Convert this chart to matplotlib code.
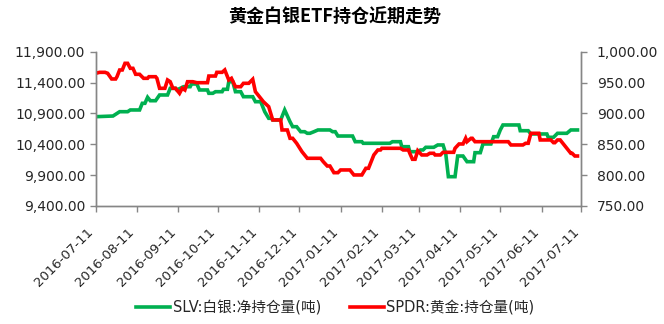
import matplotlib
matplotlib.use("Agg")
import matplotlib.pyplot as plt
import matplotlib.transforms as mtransforms
import datetime as dt

plt.rcParams['font.family'] = ['DejaVu Sans', 'Noto Sans CJK SC']

title = "黄金白银ETF持仓近期走势"
start_date = "2016-07-11"
tick_labels = ["2016-07-11", "2016-08-11", "2016-09-11", "2016-10-11", "2016-11-11",
               "2016-12-11", "2017-01-11", "2017-02-11", "2017-03-11", "2017-04-11",
               "2017-05-11", "2017-06-11", "2017-07-11"]
left_ticks = [9400, 9900, 10400, 10900, 11400, 11900]
right_ticks = [750, 800, 850, 900, 950, 1000]

slv_name = "SLV:白银:净持仓量(吨)"
spdr_name = "SPDR:黄金:持仓量(吨)"

# days since start_date
slv_days = [0, 13, 18, 24, 26, 33, 35, 37, 39, 41, 45, 48, 54, 56, 60, 61, 66, 71, 72, 76,
            78, 84, 85, 88, 90, 95, 96, 99, 100, 103, 105, 109, 111, 118, 120, 124, 127, 130,
            132, 133, 139, 142, 146, 148, 151, 154, 157, 159, 161, 164, 167, 176, 178, 180,
            182, 193, 195, 200, 201, 221, 223, 229, 230, 235, 236, 242, 244, 246, 248, 254,
            257, 261, 263, 265, 270, 272, 276, 279, 284, 285, 289, 291, 297, 299, 302, 304,
            306, 318, 319, 325, 327, 339, 340, 344, 347, 354, 357, 362]
slv_vals = [10847, 10858, 10928, 10928, 10956, 10956, 11064, 11064, 11161, 11106, 11106,
            11199, 11199, 11307, 11307, 11280, 11333, 11333, 11377, 11377, 11280, 11280,
            11226, 11226, 11252, 11252, 11291, 11291, 11414, 11414, 11252, 11252, 11171,
            11171, 11090, 11090, 10928, 10821, 10821, 10794, 10794, 10956, 10766, 10685,
            10685, 10604, 10604, 10578, 10578, 10604, 10632, 10632, 10604, 10604, 10534,
            10534, 10442, 10442, 10416, 10416, 10442, 10442, 10361, 10361, 10280, 10280,
            10308, 10308, 10351, 10351, 10389, 10389, 10254, 9875, 9875, 10210, 10210,
            10118, 10118, 10264, 10264, 10405, 10405, 10523, 10523, 10632, 10713, 10713,
            10620, 10620, 10567, 10567, 10513, 10513, 10578, 10578, 10632, 10632]

spdr_days = [0, 3, 7, 9, 12, 15, 16, 18, 20, 22, 24, 26, 28, 30, 33, 36, 39, 40, 45, 46,
             48, 52, 54, 56, 58, 60, 61, 63, 65, 67, 69, 73, 76, 84, 85, 90, 91, 95, 97, 100,
             102, 105, 109, 111, 115, 118, 120, 122, 126, 130, 133, 139, 140, 144, 146, 148,
             151, 155, 159, 169, 171, 174, 176, 179, 182, 184, 191, 194, 200, 203, 205, 206,
             209, 212, 214, 215, 229, 231, 235, 236, 238, 240, 242, 245, 249, 251, 254, 255,
             259, 261, 269, 270, 273, 276, 278, 279, 282, 283, 285, 310, 312, 321, 323, 325,
             327, 333, 334, 342, 344, 345, 347, 349, 351, 354, 357, 358, 360, 362]
spdr_vals = [965.0, 966.6, 966.6, 965.0, 955.8, 955.8, 959.5, 970.4, 970.4, 981.2, 981.2,
             973.1, 973.1, 963.4, 963.4, 956.9, 956.9, 959.5, 959.5, 956.9, 940.7, 940.7,
             954.2, 951.4, 940.7, 940.7, 938.0, 932.6, 940.7, 938.0, 951.4, 951.4, 949.8,
             949.8, 960.6, 960.6, 966.6, 966.6, 970.4, 954.2, 956.9, 943.3, 943.3, 948.8,
             948.8, 955.3, 935.2, 929.9, 919.0, 910.9, 889.4, 889.4, 873.2, 873.2, 859.7,
             859.7, 851.6, 838.0, 827.3, 827.3, 821.8, 814.8, 814.8, 804.0, 804.0, 808.4,
             808.4, 800.3, 800.3, 811.1, 811.1, 816.5, 832.7, 840.8, 840.8, 843.5, 843.5,
             840.8, 840.8, 835.4, 825.7, 825.7, 839.6, 832.7, 832.7, 835.4, 835.4, 832.7,
             832.7, 837.0, 837.0, 843.5, 850.5, 850.5, 859.7, 854.2, 859.7, 859.7, 854.2,
             854.2, 848.9, 848.9, 851.6, 851.6, 867.8, 867.8, 857.0, 857.0, 852.6, 852.6,
             857.0, 857.0, 851.6, 843.5, 835.4, 835.4, 831.0, 831.0]

green = '#00B050'
red = '#FF0000'
spine_c = '#868686'
text_c = '#262626'

d0 = dt.datetime.strptime(start_date, "%Y-%m-%d")
slv_dates = [d0 + dt.timedelta(days=d) for d in slv_days]
spdr_dates = [d0 + dt.timedelta(days=d) for d in spdr_days]
tick_dates = [dt.datetime.strptime(s, "%Y-%m-%d") for s in tick_labels]

fig = plt.figure(figsize=(6.64, 3.24), dpi=100)
ax = fig.add_axes([0.1441, 0.3642, 0.7316, 0.4762])
ax2 = ax.twinx()

l1, = ax.plot(slv_dates, slv_vals, color=green, lw=2.6, solid_joinstyle='miter')
l2, = ax2.plot(spdr_dates, spdr_vals, color=red, lw=2.6, solid_joinstyle='miter')
ax2.set_zorder(ax.get_zorder() + 1)

ax.set_xlim(tick_dates[0], tick_dates[-1])
ax.set_ylim(left_ticks[0], left_ticks[-1])
ax2.set_ylim(right_ticks[0], right_ticks[-1])
ax.set_yticks(left_ticks)
ax.set_yticklabels([f"{v:,.2f}" for v in left_ticks])
ax2.set_yticks(right_ticks)
ax2.set_yticklabels([f"{v:,.2f}" for v in right_ticks])
ax.set_xticks(tick_dates)
ax.set_xticklabels(tick_labels, rotation=45, ha='right', va='top')
offset = mtransforms.ScaledTranslation(3 / 100, 0, fig.dpi_scale_trans)
for lab in ax.get_xticklabels():
    lab.set_transform(lab.get_transform() + offset)

for a in (ax, ax2):
    a.spines['top'].set_visible(False)
    for s in ('left', 'right', 'bottom'):
        a.spines[s].set_color(spine_c)
        a.spines[s].set_linewidth(1)
ax.tick_params(axis='y', direction='out', length=4, width=1, color=spine_c,
               labelsize=10, labelcolor=text_c, pad=3.5)
ax2.tick_params(axis='y', direction='out', length=4, width=1, color=spine_c,
                labelsize=10, labelcolor=text_c, pad=7)
ax.tick_params(axis='x', direction='out', length=4, width=1, color=spine_c,
               labelsize=9.5, labelcolor=text_c, pad=10)

fig.text(0.504, 0.947, title, ha='center', va='center', fontsize=13,
         fontweight='bold', color='#000000', family=['Noto Sans CJK SC'])

leg = fig.legend([l1, l2], [slv_name, spdr_name], loc='center', bbox_to_anchor=(0.505, 0.05),
                 ncol=2, frameon=False, handlelength=2.3, handletextpad=0.2,
                 columnspacing=2.0, prop={'family': ['DejaVu Sans', 'Noto Sans CJK SC'], 'size': 10.5})
for t in leg.get_texts():
    t.set_color(text_c)

fig.savefig("out.png", dpi=100)
